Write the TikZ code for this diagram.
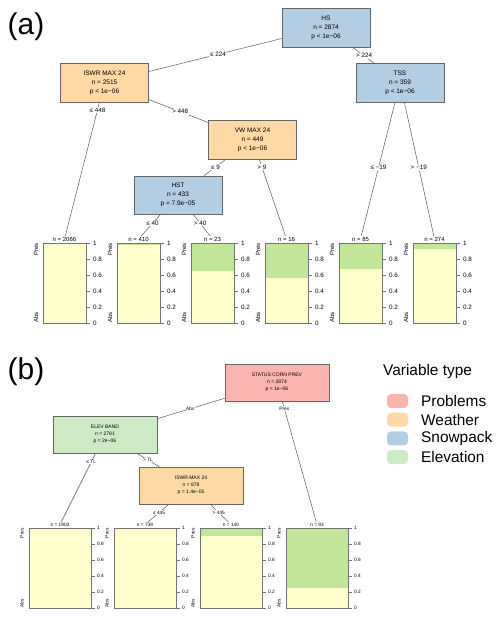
\documentclass[tikz,border=0pt]{standalone}
\usepackage{fontspec}
\setmainfont{Liberation Sans}
\usetikzlibrary{positioning}
\definecolor{problems}{HTML}{FBB4AE}
\definecolor{weather}{HTML}{FED9A6}
\definecolor{snowpack}{HTML}{B3CDE3}
\definecolor{elevation}{HTML}{CCEBC5}
\definecolor{absfill}{HTML}{FFFFCC}
\definecolor{presfill}{HTML}{C2E699}

\begin{document}
\begin{tikzpicture}[
    x=1pt, y=-1pt,
    split/.style={draw=black!60, line width=0.5pt, minimum width=88pt, minimum height=39pt,
        align=center, inner sep=1pt, font=\fontsize{6.5}{9}\selectfont},
    splitb/.style={split, minimum width=104pt, minimum height=37pt, font=\fontsize{5}{7}\selectfont},
    edge/.style={draw=black!65, line width=0.5pt},
    elab/.style={fill=white, inner sep=0.6pt, font=\fontsize{6.3}{6.3}\selectfont},
    elabb/.style={elab, font=\fontsize{4.8}{4.8}\selectfont},
    barframe/.style={draw=black!55, line width=0.6pt},
    nlab/.style={inner sep=0.8pt, font=\fontsize{6}{6}\selectfont},
    nlabb/.style={inner sep=0.6pt, font=\fontsize{4.8}{4.8}\selectfont},
    ticklab/.style={anchor=west, inner sep=0pt, font=\fontsize{6.3}{6.3}\selectfont},
    ticklabb/.style={anchor=west, inner sep=0pt, font=\fontsize{4.8}{4.8}\selectfont},
    swatch/.style={fill=#1, rounded corners=4pt, minimum width=21pt, minimum height=14pt, inner sep=0pt},
    legtext/.style={inner sep=0pt, anchor=west, font=\fontsize{15.4}{15.4}\selectfont}
]
\useasboundingbox (0,0) rectangle (500,623);

% (a)
\node[font=\fontsize{30}{30}\selectfont, inner sep=0pt] (panela) at (26,27) {(a)};

\node[split, fill=snowpack] (hs) at (326,27.5) {HS\\n = 2874\\p < 1e−06};
\node[split, fill=weather] (iswra) at (104.5,82.5) {ISWR MAX 24\\n = 2515\\p < 1e−06};
\node[split, fill=snowpack] (tss) at (400,82.5) {TSS\\n = 359\\p < 1e−06};
\node[split, fill=weather] (vw) at (252.5,139.5) {VW MAX 24\\n = 449\\p < 1e−06};
\node[split, fill=snowpack, minimum height=38pt] (hst) at (178,195) {HST\\n = 433\\p = 7.9e−05};

\foreach \i/\xl/\n/\g in {1/43/2066/0, 2/117/410/0.03, 3/191/23/0.35, 4/265/16/0.44, 5/339/85/0.33, 6/413/274/0.07} {
    \fill[absfill] (\xl,243) rectangle ++(43,80);
    \fill[presfill] (\xl,243) rectangle ++(43,80*\g);
    \draw[barframe] (\xl,243) rectangle ++(43,80);
    \node[nlab] (la\i) at (\xl+21.5,239) {n = \n};
    \foreach \v/\l in {0/0, 0.2/0.2, 0.4/0.4, 0.6/0.6, 0.8/0.8, 1/1} {
        \draw[black!55, line width=0.5pt] (\xl+43,323-80*\v) -- ++(4,0);
        \node[ticklab] at (\xl+50,323-80*\v) {\l};
    }
    \node[rotate=90, anchor=east, inner sep=0pt, font=\fontsize{6}{6}\selectfont] at (\xl-7,243) {Pres};
    \node[rotate=90, anchor=west, inner sep=0pt, font=\fontsize{6}{6}\selectfont] at (\xl-7,323) {Abs};
}

\draw[edge] (hs) -- node[elab, pos=0.48] {≤ 224} (iswra);
\draw[edge] (hs) -- node[elab, pos=0.55] {> 224} (tss);
\draw[edge] (iswra) -- node[elab, pos=0.06] {≤ 448} (la1);
\draw[edge] (iswra) -- node[elab, pos=0.53] {> 448} (vw);
\draw[edge] (vw) -- node[elab, pos=0.47] {≤ 9} (hst);
\draw[edge] (vw) -- node[elab, pos=0.1] {> 9} (la4);
\draw[edge] (hst) -- node[elab, pos=0.42] {≤ 40} (la2);
\draw[edge] (hst) -- node[elab, pos=0.42] {> 40} (la3);
\draw[edge] (tss) -- node[elab, pos=0.49] {≤ −19} (la5);
\draw[edge] (tss) -- node[elab, pos=0.49] {> −19} (la6);

% (b)
\node[font=\fontsize{30}{30}\selectfont, inner sep=0pt] (panelb) at (26,372) {(b)};

\node[splitb, fill=problems] (status) at (277,382.5) {STATUS CORN PREV\\n = 2874\\p < 1e−06};
\node[splitb, fill=elevation] (elev) at (105,434.5) {ELEV BAND\\n = 2781\\p = 2e−06};
\node[splitb, fill=weather] (iswrb) at (191,485.5) {ISWR MAX 24\\n = 878\\p = 1.4e−05};

\foreach \i/\xl/\n/\g in {1/29/1903/0, 2/114/738/0, 3/200/140/0.1, 4/286/93/0.75} {
    \fill[absfill] (\xl,528) rectangle ++(62,80);
    \fill[presfill] (\xl,528) rectangle ++(62,80*\g);
    \draw[barframe] (\xl,528) rectangle ++(62,80);
    \node[nlabb] (lb\i) at (\xl+31,524.5) {n = \n};
    \foreach \v/\l in {0/0, 0.2/0.2, 0.4/0.4, 0.6/0.6, 0.8/0.8, 1/1} {
        \draw[black!55, line width=0.5pt] (\xl+62,608-80*\v) -- ++(4,0);
        \node[ticklabb] at (\xl+68,608-80*\v) {\l};
    }
    \node[rotate=90, anchor=east, inner sep=0pt, font=\fontsize{4.8}{4.8}\selectfont] at (\xl-7,528) {Pres};
    \node[rotate=90, anchor=west, inner sep=0pt, font=\fontsize{4.8}{4.8}\selectfont] at (\xl-7,608) {Abs};
}

\draw[edge] (status) -- node[elabb, pos=0.51] {Abs} (elev);
\draw[edge] (status) -- node[elabb, pos=0.06] {Pres} (lb4);
\draw[edge] (elev) -- node[elabb, pos=0.13] {≤ TL} (lb1);
\draw[edge] (elev) -- node[elabb, pos=0.5] {> TL} (iswrb);
\draw[edge] (iswrb) -- node[elabb, pos=0.47] {≤ 445} (lb2);
\draw[edge] (iswrb) -- node[elabb, pos=0.47] {> 445} (lb3);

% legend
\node[legtext] (legtitle) at (383,372) {Variable type};
\foreach \c/\t [count=\k] in {problems/Problems, weather/Weather, snowpack/Snowpack, elevation/Elevation} {
    \pgfmathsetmacro\yy{401+18.7*(\k-1)}
    \node[swatch=\c] (sw\k) at (397.5,\yy) {};
    \node[legtext, right=23.5pt of sw\k.center] (leg\k) {\t};
}
\end{tikzpicture}
\end{document}
